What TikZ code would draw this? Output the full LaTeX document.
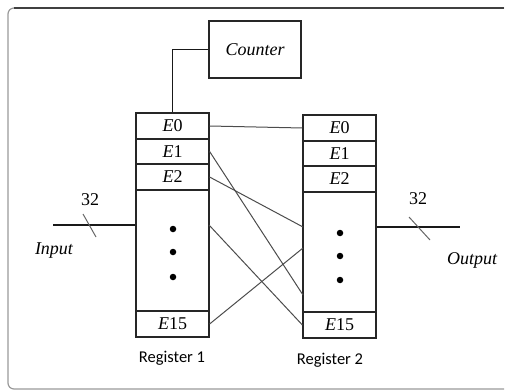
\documentclass[tikz,border=0pt]{standalone}
\usepackage{fontspec}
\setmainfont{Liberation Serif}
\newfontfamily\labelsans{Carlito}
\usetikzlibrary{calc}

\tikzset{
  cell/.style={draw=black!85, line width=1.2pt, minimum width=73pt, inner sep=0pt,
               font=\fontsize{18}{21}\selectfont},
  wire/.style={draw=black!70, line width=1pt},
  bus/.style={draw=black!90, line width=1.2pt},
  tick/.style={draw=black!60, line width=1pt},
  caption/.style={font=\labelsans\fontsize{16.5}{19}\selectfont, inner sep=0pt},
  txt/.style={font=\fontsize{18}{21}\selectfont, inner sep=0pt},
  dot/.style={circle, fill=black, inner sep=0pt, minimum size=6.5pt},
}
\newcommand{\ereg}[1]{{\itshape E}#1}

\begin{document}
\begin{tikzpicture}[x=1pt, y=-1pt]
  \useasboundingbox (0,0) rectangle (505,390);

  % frame, open on the right
  \draw[gray!80, line width=1.2pt, rounded corners=6pt]
    (504,8) -- (8,8) -- (8,389) -- (504,389);
  \draw[black!75, line width=1.6pt] (14,8) -- (504,8);

  % counter
  \node[draw=black!85, line width=1.2pt, minimum width=92pt, minimum height=57pt,
        inner sep=0pt, font=\fontsize{18}{21}\selectfont] (cnt) at (255,49.5) {\itshape Counter};

  % register 1
  \node[cell, minimum height=26pt]  (a0)  at (172.5,126)   {\ereg{0}};
  \node[cell, minimum height=25pt]  (a1)  at (172.5,151.5) {\ereg{1}};
  \node[cell, minimum height=26pt]  (a2)  at (172.5,177)   {\ereg{2}};
  \node[cell, minimum height=121pt] (ad)  at (172.5,250.5) {};
  \node[cell, minimum height=26pt]  (a15) at (172.5,324)   {\ereg{15}};

  % register 2
  \node[cell, minimum height=26pt]  (b0)  at (339.5,128)   {\ereg{0}};
  \node[cell, minimum height=25pt]  (b1)  at (339.5,153.5) {\ereg{1}};
  \node[cell, minimum height=26pt]  (b2)  at (339.5,179)   {\ereg{2}};
  \node[cell, minimum height=120pt] (bd)  at (339.5,252)   {};
  \node[cell, minimum height=26pt]  (b15) at (339.5,325)   {\ereg{15}};

  % ellipsis dots
  \node[dot] (ad1) at (173,229) {};
  \node[dot] (ad2) at (173,252) {};
  \node[dot] (ad3) at (173,277) {};
  \node[dot] (bd1) at (340,233) {};
  \node[dot] (bd2) at (340,256) {};
  \node[dot] (bd3) at (340,280) {};

  % register captions
  \node[caption] (r1) at (172,358) {Register 1};
  \node[caption] (r2) at (330,360) {Register 2};

  % counter to register 1
  \draw[bus] (cnt.west) -| (a0.north);

  % connection points on the register edges
  \coordinate (pa) at (209,225);
  \coordinate (pb1) at (303,295);
  \coordinate (pb2) at (303,227);
  \coordinate (pb15) at (303,248);

  % permutation wiring
  \draw[wire] (a0.east) -- (b0.west);
  \draw[wire] (a1.east) -- (pb1);
  \draw[wire] (a2.east) -- (pb2);
  \draw[wire] (pa) -- (b15.west);
  \draw[wire] (a15.east) -- (pb15);

  % input bus
  \coordinate (in) at (53,225);
  \draw[bus] (in) -- (in -| ad.west);
  \coordinate (ti1) at (83,214);
  \coordinate (ti2) at (96,237);
  \draw[tick] (ti1) -- (ti2);
  \node[txt] (w1) at (90,200) {32};
  \node[txt] (inl) at (54,251) {\itshape Input};

  % output bus
  \coordinate (out) at (460,227);
  \draw[bus] (out -| bd.east) -- (out);
  \coordinate (to1) at (409,217);
  \coordinate (to2) at (430,240);
  \draw[tick] (to1) -- (to2);
  \node[txt] (w2) at (418,199) {32};
  \node[txt] (outl) at (472,260) {\itshape Output};
\end{tikzpicture}
\end{document}
